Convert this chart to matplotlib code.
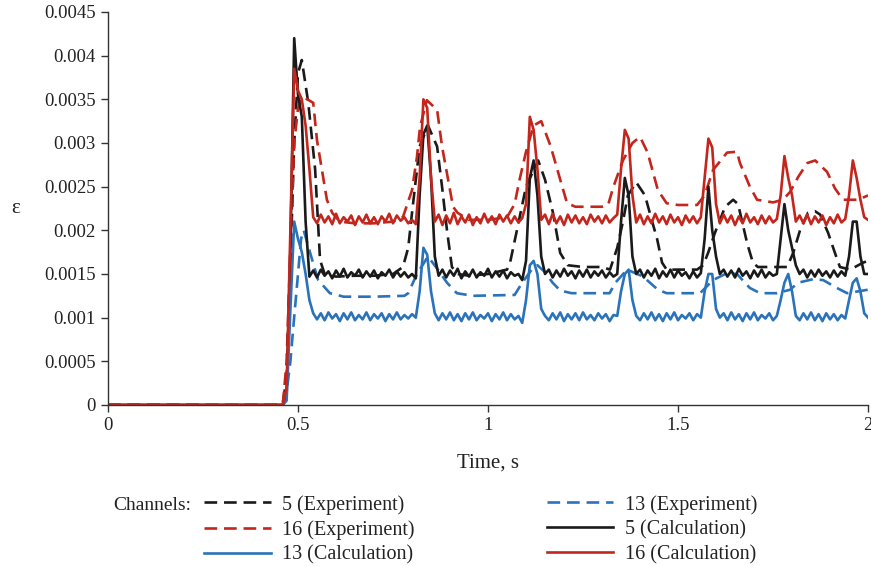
import numpy as np
import matplotlib
matplotlib.use("Agg")
import matplotlib.pyplot as plt

plt.rcParams["font.family"] = ["Liberation Serif", "DejaVu Serif"]

# strain values are given in units of 1e-4
SCALE = 1e-4

# calculated channels, sampled every 0.01 s from 0.46 s (plus t = 0)
CALC_START = 0.46
CALC_STEP = 0.01

calc_16 = [
    0, 2, 20, 38.5, 36, 35, 32, 27, 21.5, 20.8,
    21.8, 20.9, 21.6, 20.7, 21.9, 20.8, 21.5, 21.0, 21.7, 20.6,
    21.6, 20.9, 21.8, 20.8, 21.5, 20.7, 21.6, 21.0, 21.9, 20.8,
    21.7, 21.1, 21.5, 20.8, 21.2, 20.7,
    26, 35, 34, 26, 21,
    21.8, 20.6, 21.7, 20.8, 22.0, 20.7, 21.6, 20.9, 21.8, 20.6,
    21.5, 20.8, 21.9, 20.9, 21.6, 20.7, 21.8, 21.0, 21.7, 20.8,
    21.6, 20.9, 21.4,
    23, 33, 31.5, 27, 21.2,
    21.8, 20.7, 21.9, 20.8, 21.6, 20.6, 21.8, 20.9, 21.7, 20.8,
    21.5, 20.7, 21.8, 21.0, 21.6, 20.8, 21.7, 20.9, 21.4,
    21.8, 27, 31.5, 30.5, 24, 20.9,
    21.8, 20.7, 21.6, 20.8, 21.9, 20.9, 21.6, 20.7, 21.8, 20.9,
    21.5, 20.6, 21.7, 20.9, 21.6, 20.8,
    21.5, 26, 30.5, 29.5, 23, 20.8,
    21.8, 20.9, 21.7, 20.6, 21.6, 20.8, 21.9, 20.9, 21.5, 20.7,
    21.7, 20.8, 21.6, 20.9,
    21.3, 24, 28.5, 26, 24, 21,
    21.7, 20.8, 21.8, 20.7, 21.6, 20.9, 21.7, 20.6, 21.5, 20.8,
    21.8, 20.9, 21.3,
    24, 28, 26, 23.5, 21.5, 21.2,
]

calc_5 = [
    0, 1, 18, 42, 35.5, 33, 21, 14.7, 15.4,
    14.6, 15.5, 14.8, 15.3, 14.5, 15.4, 14.7, 15.6, 14.6, 15.2,
    14.8, 15.5, 14.6, 15.3, 14.7, 15.4, 14.5, 15.2, 14.8, 15.5,
    14.6, 15.3, 14.7, 15.2, 14.6, 15.0, 14.5,
    24, 31, 32, 26, 17, 14.8,
    15.5, 14.6, 15.4, 14.8, 15.6, 14.5, 15.3, 14.7, 15.5, 14.6,
    15.2, 14.8, 15.6, 14.6, 15.3, 14.7, 15.4, 14.5, 15.2, 14.8,
    15.0, 14.3,
    16.5, 26, 28, 24, 17, 15,
    15.5, 14.6, 15.4, 14.7, 15.6, 14.8, 15.3, 14.5, 15.4, 14.7,
    15.5, 14.6, 15.3, 14.8, 15.4, 14.6, 15.2, 14.7,
    15.0, 21, 26, 24, 17, 15,
    15.5, 14.6, 15.4, 14.8, 15.6, 14.5, 15.3, 14.7, 15.5, 14.6,
    15.4, 14.8, 15.2, 14.5, 15.3, 14.6, 15.1,
    19, 25, 20, 17, 15,
    15.5, 14.7, 15.4, 14.6, 15.6, 14.8, 15.3, 14.5, 15.4, 14.7,
    15.5, 14.6, 15.2, 14.8, 15.0,
    19, 23, 20, 18, 16, 15,
    15.5, 14.6, 15.4, 14.7, 15.5, 14.8, 15.3, 14.6, 15.4, 14.7,
    15.3, 14.8,
    17, 21, 21, 17, 15, 15.0,
]

calc_13 = [
    0, 0.5, 11, 21, 19, 17.5, 15, 12, 10.5,
    9.8, 10.5, 9.7, 10.6, 9.9, 10.4, 9.6, 10.5, 9.8, 10.6,
    9.7, 10.3, 9.8, 10.6, 9.7, 10.4, 9.9, 10.5, 9.6, 10.4,
    9.8, 10.6, 9.8, 10.3, 9.9, 10.4, 10.0,
    13, 18, 17.2, 13, 10.5,
    9.7, 10.5, 9.8, 10.6, 9.7, 10.4, 9.6, 10.5, 9.8, 10.6,
    9.7, 10.3, 9.9, 10.5, 9.6, 10.4, 9.8, 10.6, 9.7, 10.4,
    9.8, 10.2, 9.4,
    12, 16, 16.5, 15, 11, 10.2,
    9.7, 10.5, 9.8, 10.6, 9.6, 10.4, 9.8, 10.5, 9.7, 10.6,
    9.8, 10.3, 9.7, 10.5, 9.9, 10.4, 9.6, 10.3,
    10.2, 13, 15, 15.5, 12, 10.2,
    9.7, 10.5, 9.8, 10.6, 9.7, 10.4, 9.6, 10.5, 9.8, 10.6,
    9.7, 10.3, 9.9, 10.5, 9.7, 10.4, 10.0,
    13, 15, 15, 11, 10.0,
    10.5, 9.7, 10.6, 9.8, 10.4, 9.6, 10.5, 9.8, 10.6, 9.7,
    10.3, 9.9, 10.5, 9.7, 10.2,
    12, 14, 15, 13, 10.2,
    9.7, 10.5, 9.8, 10.6, 9.7, 10.4, 9.6, 10.5, 9.8, 10.4,
    9.7, 10.3, 9.9,
    12, 14, 14.5, 13, 10.5, 10.0,
]

# measured channels
t_exp_5 = [
    0, 0.44, 0.46, 0.47, 0.48, 0.49, 0.50, 0.51, 0.527, 0.545,
    0.558, 0.57, 0.60, 0.65, 0.70, 0.75, 0.776, 0.79, 0.80, 0.82,
    0.842, 0.866, 0.879, 0.892, 0.905, 0.92, 0.95, 1.00, 1.05, 1.058,
    1.076, 1.10, 1.132, 1.15, 1.171, 1.19, 1.21, 1.25, 1.30, 1.321,
    1.34, 1.355, 1.368, 1.39, 1.413, 1.432, 1.445, 1.458, 1.47, 1.50,
    1.55, 1.566, 1.579, 1.597, 1.624, 1.645, 1.658, 1.682, 1.697, 1.71,
    1.75, 1.787, 1.803, 1.821, 1.842, 1.86, 1.874, 1.895, 1.913, 1.926,
    1.953, 1.987, 2.0,
]
exp_5 = [
    0, 0, 0.3, 3, 16, 30, 38, 39.5, 34.6, 27,
    16.6, 15, 14.7, 14.8, 14.8, 15, 15.8, 18, 22, 29.6,
    32, 29.6, 25, 20, 15.8, 15, 14.8, 15, 15.5, 16.3,
    20, 25, 28, 25.8, 22, 17.4, 16, 15.8, 15.8, 15.5,
    18, 21, 24, 25.5, 24, 21, 19, 16.3, 15.5, 15.5,
    15.5, 16, 17.4, 19.7, 22.7, 23.5, 23, 18.5, 16.3, 15.8,
    15.8, 15.8, 17.4, 20, 22, 22.2, 21.8, 19.7, 17.4, 15.8,
    15.5, 16.3, 16.5,
]

t_exp_16 = [
    0, 0.25, 0.27, 0.44, 0.46, 0.47, 0.48, 0.49, 0.50, 0.513,
    0.54, 0.55, 0.563, 0.576, 0.59, 0.61, 0.65, 0.70, 0.75, 0.776,
    0.80, 0.813, 0.821, 0.839, 0.866, 0.879, 0.895, 0.908, 0.92, 0.95,
    1.00, 1.05, 1.07, 1.083, 1.10, 1.12, 1.14, 1.165, 1.19, 1.208,
    1.23, 1.30, 1.316, 1.33, 1.355, 1.38, 1.40, 1.42, 1.447, 1.47,
    1.50, 1.55, 1.57, 1.592, 1.629, 1.655, 1.663, 1.689, 1.708, 1.75,
    1.776, 1.795, 1.816, 1.84, 1.861, 1.892, 1.913, 1.934, 1.974, 2.0,
]
exp_16 = [
    0, 0, -0.2, -0.2, 0, 5, 18, 30, 34, 35.3,
    34.6, 30.3, 26.9, 23.5, 22, 21, 20.8, 20.8, 21, 21.5,
    24.6, 28.4, 31.8, 34.9, 33.8, 29.6, 25.8, 22.7, 22, 21.2,
    21.2, 21.5, 23, 25.8, 29, 32, 32.5, 29.6, 25.8, 23.1,
    22.7, 22.7, 22.9, 25, 28, 30, 30.7, 28.9, 24.6, 23.1,
    22.9, 22.9, 24, 26.9, 28.9, 29, 27.7, 25, 23.5, 23.2,
    23.5, 24.4, 26.1, 27.7, 28, 26.7, 24.8, 23.5, 23.5, 24,
]

t_exp_13 = [
    0, 0.46, 0.47, 0.48, 0.487, 0.50, 0.508, 0.515, 0.532, 0.553,
    0.584, 0.62, 0.70, 0.78, 0.79, 0.813, 0.842, 0.868, 0.892, 0.918,
    0.96, 1.07, 1.09, 1.115, 1.13, 1.15, 1.17, 1.19, 1.22, 1.32,
    1.335, 1.366, 1.408, 1.447, 1.47, 1.558, 1.592, 1.629, 1.655, 1.689,
    1.716, 1.76, 1.795, 1.816, 1.855, 1.882, 1.918, 1.945, 2.0,
]
exp_13 = [
    0, 0, 1.5, 5, 8.6, 15, 19, 20, 17.4, 14.3,
    12.8, 12.4, 12.4, 12.5, 12.8, 15, 17, 15.5, 14, 12.8,
    12.5, 12.6, 14, 15.5, 16, 15.2, 14, 13.1, 12.8, 12.8,
    14, 15.5, 14.7, 13.2, 12.8, 12.8, 14.3, 15.1, 15, 13.4,
    12.8, 12.8, 13.2, 14, 14.4, 14.3, 13.4, 12.8, 13.2,
]

BLACK = "#1a1a1a"
RED = "#c3261c"
BLUE = "#2a73ba"
TEXT = "#222222"

for v in (calc_16, calc_5, calc_13):
    assert len(v) == len(calc_16)
t_calc = np.concatenate([[0.0], CALC_START + CALC_STEP * np.arange(len(calc_16))])


def calc(v):
    return np.concatenate([[0.0], np.asarray(v)]) * SCALE


fig = plt.figure(figsize=(8.71, 5.66), dpi=100)
ax = fig.add_axes([0.124, 0.2845, 0.8726, 0.6943])

lw = 1.9
dash = (4.8, 2.6)
l5e, = ax.plot(t_exp_5, np.array(exp_5) * SCALE, color=BLACK, lw=lw, dashes=dash)
l13e, = ax.plot(t_exp_13, np.array(exp_13) * SCALE, color=BLUE, lw=lw, dashes=dash)
l16e, = ax.plot(t_exp_16, np.array(exp_16) * SCALE, color=RED, lw=lw, dashes=dash)
l5c, = ax.plot(t_calc, calc(calc_5), color=BLACK, lw=lw)
l13c, = ax.plot(t_calc, calc(calc_13), color=BLUE, lw=lw)
l16c, = ax.plot(t_calc, calc(calc_16), color=RED, lw=lw)

ax.set_xlim(0, 2)
ax.set_ylim(0, 0.0045)
ax.set_xticks([0, 0.5, 1, 1.5, 2])
ax.set_xticklabels(["0", "0.5", "1", "1.5", "2"])
ax.set_yticks(np.arange(0, 0.00451, 0.0005))
ax.set_yticklabels(["0", "0.0005", "0.001", "0.0015", "0.002", "0.0025",
                    "0.003", "0.0035", "0.004", "0.0045"])
for s in ("top", "right"):
    ax.spines[s].set_visible(False)
for s in ("left", "bottom"):
    ax.spines[s].set_color("#333333")
    ax.spines[s].set_linewidth(1.0)
ax.tick_params(direction="out", length=5, width=1, color="#333333",
               labelsize=13.5, labelcolor=TEXT, pad=4)

ax.set_xlabel("Time, s", fontsize=15, color=TEXT, labelpad=14)
ax.set_ylabel("ε", fontsize=15, color=TEXT, rotation=0, va="center")
ax.yaxis.set_label_coords(-0.122, 0.5)

# legend laid out in two columns below the axes
handles = [l5e, l16e, l13c, l13e, l5c, l16c]
labels = ["5 (Experiment)", "16 (Experiment)", "13 (Calculation)",
          "13 (Experiment)", "5 (Calculation)", "16 (Calculation)"]
fig.legend(handles, labels, ncol=2, loc="center left",
           bbox_to_anchor=(0.2343, 0.064), bbox_transform=fig.transFigure,
           frameon=False, fontsize=14.5, handlelength=3.3, handletextpad=0.55,
           columnspacing=6.6, labelspacing=0.28, borderaxespad=0,
           borderpad=0, labelcolor=TEXT)
fig.text(0.1297, 0.107, "Channels:", fontsize=14, color=TEXT, va="center")

fig.savefig("out.png", dpi=100)
